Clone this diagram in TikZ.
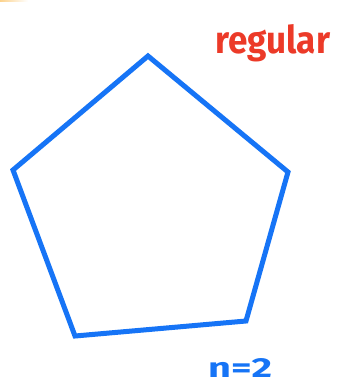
\documentclass[tikz,border=0pt]{standalone}
\usepackage{fontspec}
\usepackage{graphicx}
\setmainfont{Fira Sans}
\definecolor{penblue}{RGB}{22,116,246}
\definecolor{penred}{RGB}{236,58,40}
\definecolor{hiyellow}{RGB}{252,210,140}
\tikzset{
  edge/.style={draw=penblue, line width=5pt, line join=miter},
  handred/.style={text=penred, inner sep=0pt, anchor=base west, font=\bfseries},
  handblue/.style={text=penblue, inner sep=0pt, anchor=base west, font=\bfseries},
}
\begin{document}
\begin{tikzpicture}[x=1pt,y=-1pt]
\useasboundingbox[fill=white] (0,0) rectangle (344,384);
\shade[left color=hiyellow, right color=white] (0,0) rectangle (28,1);
\coordinate (A) at (148,56);
\coordinate (B) at (288,172);
\coordinate (C) at (246,321);
\coordinate (D) at (75,336);
\coordinate (E) at (13,170);
\draw[edge] (A) -- (B) -- (C) -- (D) -- (E) -- cycle;
\node[handred] (reg) at (215,53) {\resizebox{115pt}{29pt}{regular}};
\node[handblue] (n) at (208,377) {\resizebox{64pt}{19pt}{n=2}};
\end{tikzpicture}
\end{document}
